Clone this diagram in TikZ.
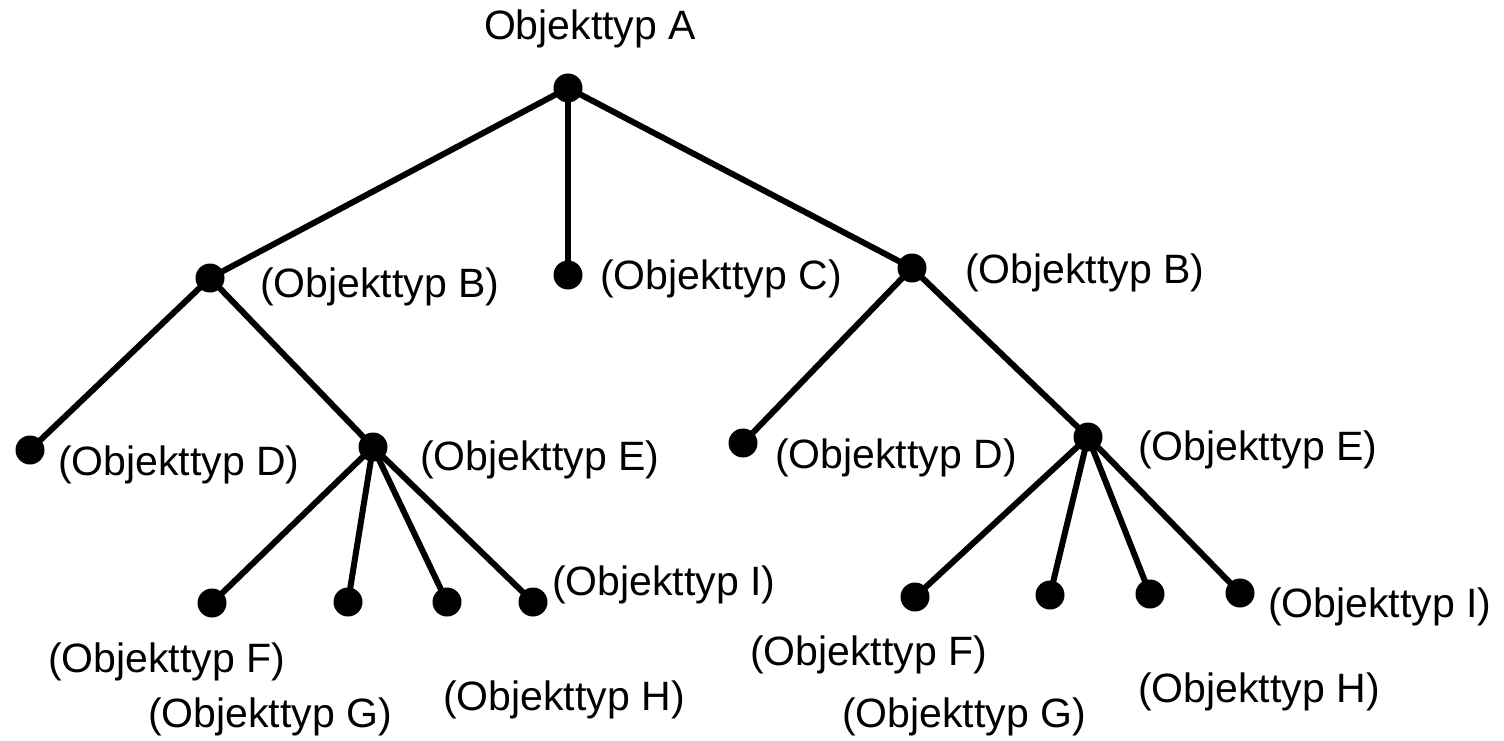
\documentclass[tikz,border=0pt]{standalone}
\usepackage{fontspec}
\setmainfont{Liberation Sans}
\begin{document}
\begin{tikzpicture}[x=1pt,y=-1pt,
  dot/.style={circle,fill=black,inner sep=0pt,minimum size=29pt},
  edge/.style={line width=6pt},
  lbl/.style={anchor=base west,inner sep=0pt,font=\fontsize{41}{49}\selectfont}]
\useasboundingbox (0,0) rectangle (1504,741);
% nodes of the tree
\node[dot] (a)  at (568,88) {};
\node[dot] (b1) at (210,278) {};
\node[dot] (c)  at (568,275) {};
\node[dot] (b2) at (912,268) {};
\node[dot] (d1) at (30,450) {};
\node[dot] (e1) at (373,447) {};
\node[dot] (d2) at (743,443) {};
\node[dot] (e2) at (1088,437) {};
\node[dot] (f1) at (212,603) {};
\node[dot] (g1) at (348,602) {};
\node[dot] (h1) at (447,602) {};
\node[dot] (i1) at (533,602) {};
\node[dot] (f2) at (915,597) {};
\node[dot] (g2) at (1050,595) {};
\node[dot] (h2) at (1150,594) {};
\node[dot] (i2) at (1240,593) {};
% branches
\draw[edge] (a.center) -- (b1.center);
\draw[edge] (a.center) -- (c.center);
\draw[edge] (a.center) -- (b2.center);
\draw[edge] (b1.center) -- (d1.center);
\draw[edge] (b1.center) -- (e1.center);
\draw[edge] (b2.center) -- (d2.center);
\draw[edge] (b2.center) -- (e2.center);
\foreach \n in {f1,g1,h1,i1} \draw[edge] (e1.center) -- (\n.center);
\foreach \n in {f2,g2,h2,i2} \draw[edge] (e2.center) -- (\n.center);
% labels
\node[lbl,anchor=base] (la) at (590,40) {Objekttyp A};
\node[lbl] (lb1) at (260,297) {(Objekttyp B)};
\node[lbl] (lc)  at (600,289) {(Objekttyp C)};
\node[lbl] (lb2) at (965,283) {(Objekttyp B)};
\node[lbl] (ld1) at (58,475) {(Objekttyp D)};
\node[lbl] (le1) at (420,470) {(Objekttyp E)};
\node[lbl] (ld2) at (775,468) {(Objekttyp D)};
\node[lbl] (le2) at (1138,460) {(Objekttyp E)};
\node[lbl] (lf1) at (48,672) {(Objekttyp F)};
\node[lbl] (lg1) at (148,727) {(Objekttyp G)};
\node[lbl] (lh1) at (443,710) {(Objekttyp H)};
\node[lbl] (li1) at (552,595) {(Objekttyp I)};
\node[lbl] (lf2) at (750,665) {(Objekttyp F)};
\node[lbl] (lg2) at (842,727) {(Objekttyp G)};
\node[lbl] (lh2) at (1138,702) {(Objekttyp H)};
\node[lbl] (li2) at (1268,617) {(Objekttyp I)};
\end{tikzpicture}
\end{document}
